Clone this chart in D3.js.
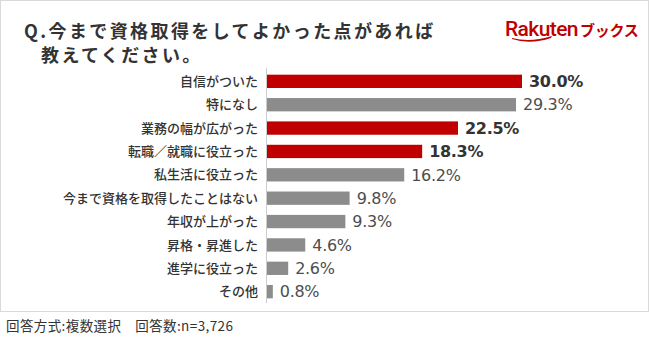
<!DOCTYPE html>
<html lang="ja">
<head>
<meta charset="utf-8">
<script src="https://cdn.jsdelivr.net/npm/d3@7"></script>
<style>
  html, body { margin: 0; padding: 0; background: #fff; }
  #wrap { position: relative; width: 650px; height: 340px; }
  svg { display: block; font-family: "Noto Sans CJK JP", "Noto Sans", sans-serif; }
  .title {
    position: absolute; left: 24px; top: 18px;
    font-family: "Noto Sans CJK JP", "Noto Sans", sans-serif;
    font-size: 18px; font-weight: 700; line-height: 24px;
    letter-spacing: 2.4px; color: #333333; white-space: nowrap;
  }
  .title div + div { margin-left: 17px; }
</style>
</head>
<body>
<div id="wrap">
<svg id="chart" width="650" height="340"></svg>
</div>
<script>
// Survey answers: "what was good about getting a qualification"
const categories = [
  "自信がついた",
  "特になし",
  "業務の幅が広がった",
  "転職／就職に役立った",
  "私生活に役立った",
  "今まで資格を取得したことはない",
  "年収が上がった",
  "昇格・昇進した",
  "進学に役立った",
  "その他"
];
const values = [30.0, 29.3, 22.5, 18.3, 16.2, 9.8, 9.3, 4.6, 2.6, 0.8];
const highlighted = [true, false, true, true, false, false, false, false, false, false];

const titleLines = ["Q.今まで資格取得をしてよかった点があれば", "教えてください。"];
const footerText = "回答方式:複数選択　回答数:n=3,726";

const RED = "#c00000";
const GRAY = "#8c8c8c";
const TEXT = "#333333";

const svg = d3.select("#chart");

// Outer frame
svg.append("rect")
  .attr("x", 0.5).attr("y", 0.5)
  .attr("width", 648).attr("height", 311)
  .attr("fill", "#fff")
  .attr("stroke", "#d9d9d9");

// Title (two lines, second one indented)
d3.select("#wrap").append("div")
  .attr("class", "title")
  .selectAll("div")
  .data(titleLines)
  .join("div")
  .text(d => d);

// Brand mark
const logo = svg.append("g");
logo.append("text")
  .attr("x", 505).attr("y", 36)
  .attr("font-family", "Roboto, 'Noto Sans', sans-serif")
  .attr("font-size", 21).attr("font-weight", 500)
  .attr("letter-spacing", -0.6)
  .attr("fill", RED)
  .text("Rakuten");
logo.append("text")
  .attr("x", 580).attr("y", 36)
  .attr("font-size", 15).attr("font-weight", 700)
  .attr("letter-spacing", -0.3)
  .attr("fill", RED)
  .text("ブックス");
logo.append("path")
  .attr("d", "M512,38 Q530,43 552,36 L551,38 Q530,45 512,39 Z")
  .attr("fill", RED);

// Chart area
const x0 = 266;
const x = d3.scaleLinear().domain([0, 30]).range([x0, 522]);
const y = d3.scaleBand()
  .domain(categories)
  .range([70, 303])
  .paddingInner(0.43)
  .paddingOuter(0.2);

const rows = categories.map((c, i) => ({ c, v: values[i], hi: highlighted[i] }));

svg.append("g").selectAll("rect")
  .data(rows)
  .join("rect")
  .attr("x", x(0))
  .attr("y", d => y(d.c))
  .attr("width", d => x(d.v) - x(0))
  .attr("height", y.bandwidth())
  .attr("fill", d => d.hi ? RED : GRAY);

// Baseline
svg.append("line")
  .attr("x1", x0 + 0.5).attr("x2", x0 + 0.5)
  .attr("y1", 68).attr("y2", 303)
  .attr("stroke", "#cccccc");

// Category labels
svg.append("g").selectAll("text")
  .data(rows)
  .join("text")
  .attr("x", 258)
  .attr("y", d => y(d.c) + y.bandwidth() / 2)
  .attr("dy", "0.36em")
  .attr("text-anchor", "end")
  .attr("font-size", 13)
  .attr("font-weight", 500)
  .attr("fill", TEXT)
  .text(d => d.c);

// Value labels
svg.append("g").selectAll("text")
  .data(rows)
  .join("text")
  .attr("x", d => x(d.v) + 7)
  .attr("y", d => y(d.c) + y.bandwidth() / 2)
  .attr("dy", "0.36em")
  .attr("font-family", "'DejaVu Sans', 'Liberation Sans', sans-serif")
  .attr("font-size", 16)
  .attr("font-weight", d => d.hi ? 700 : 400)
  .attr("letter-spacing", -0.3)
  .attr("fill", d => d.hi ? TEXT : "#4d4d4d")
  .text(d => d.v.toFixed(1) + "%");

// Footer note
svg.append("text")
  .attr("x", 6).attr("y", 331)
  .attr("font-size", 13.5)
  .attr("letter-spacing", 0.4)
  .attr("fill", TEXT)
  .text(footerText);
</script>
</body>
</html>
